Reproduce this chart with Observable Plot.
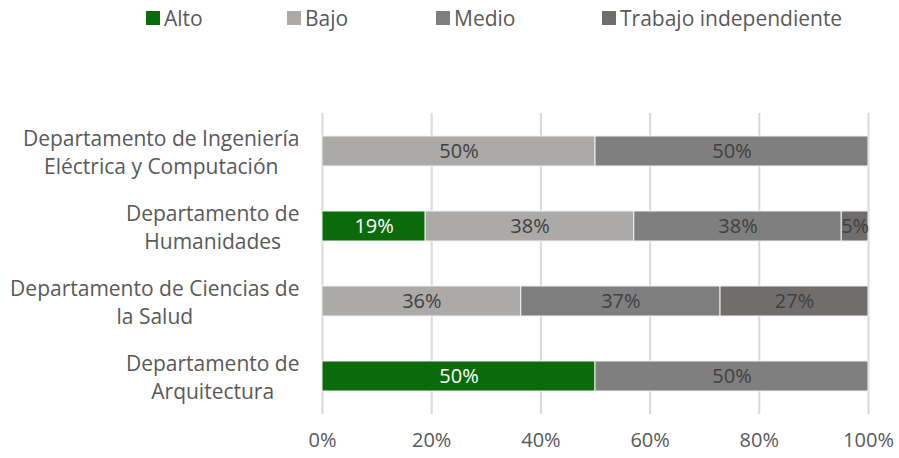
<!DOCTYPE html>
<html>
<head>
<meta charset="utf-8">
<script src="https://cdn.jsdelivr.net/npm/d3@7"></script>
<script src="https://cdn.jsdelivr.net/npm/@observablehq/plot@0.6"></script>
<style>
  body { margin: 0; background: #fff; font-family: "Open Sans", sans-serif; }
  #legend { position: relative; height: 40px; width: 899px; font-size: 21px; color: #595959; }
  .item { position: absolute; top: 4px; display: flex; align-items: center; white-space: nowrap; }
  .sw { width: 14px; height: 14px; margin-right: 4px; }
</style>
</head>
<body>
<div id="legend"></div>
<div id="chart"></div>
<script>
const departments = [
  "Departamento de Ingeniería\nEléctrica y Computación",
  "Departamento de\nHumanidades",
  "Departamento de Ciencias de\nla Salud",
  "Departamento de\nArquitectura"
];
const levels = ["Alto", "Bajo", "Medio", "Trabajo independiente"];
const colors = ["#0b6b0b", "#abaaa8", "#7f7f7f", "#716d6d"];
// percentages per department, in order of levels
const alto    = [0, 18.9, 0, 50];
const bajo    = [50, 38.2, 36.4, 0];
const medio   = [50, 38.0, 36.5, 50];
const trabajo = [0, 4.9, 27.1, 0];
const xTicks = [0, 20, 40, 60, 80, 100];

const series = [alto, bajo, medio, trabajo];
const rows = [];
departments.forEach((d, i) => {
  levels.forEach((l, j) => {
    const v = series[j][i];
    if (v > 0) rows.push({dept: d, level: l, value: v});
  });
});

// legend
const legendX = [146, 287, 436, 602];
const legend = document.getElementById("legend");
levels.forEach((l, j) => {
  const it = document.createElement("div");
  it.className = "item";
  it.style.left = legendX[j] + "px";
  it.innerHTML = `<span class="sw" style="background:${colors[j]}"></span><span>${l}</span>`;
  legend.appendChild(it);
});

// measure label widths so multi-line labels are centred and right-aligned as a block
const ctx = document.createElement("canvas").getContext("2d");
ctx.font = "21px 'Open Sans'";
const labelWidth = s => Math.max(...s.split("\n").map(t => ctx.measureText(t).width));

const yLabelMarks = departments.map(d =>
  Plot.text([d], {
    y: v => v, text: v => v, frameAnchor: "left", textAnchor: "middle",
    dx: -(23 + labelWidth(d) / 2), lineHeight: 1.33, fontSize: 21, fill: "#595959"
  })
);

const chart = Plot.plot({
  width: 899,
  height: 418,
  marginLeft: 322,
  marginRight: 31,
  marginTop: 73,
  marginBottom: 44,
  style: {fontFamily: "Open Sans, sans-serif", fontSize: "20px", color: "#595959"},
  x: {domain: [0, 100], ticks: xTicks, tickFormat: d => d + "%", label: null},
  y: {domain: departments, paddingInner: 0.6, paddingOuter: 0.3, label: null, axis: null},
  color: {domain: levels, range: colors},
  marks: [
    Plot.gridX(xTicks, {stroke: "#d9d9d9", strokeWidth: 2, strokeOpacity: 1}),
    Plot.barX(rows, Plot.stackX({
      y: "dept", x: "value", fill: "level", order: levels,
      stroke: "#f2f2f2", strokeWidth: 1
    })),
    Plot.text(rows, Plot.stackX({
      y: "dept", x: "value", z: "level", order: levels,
      text: d => Math.round(d.value) + "%",
      fill: d => d.level === "Alto" ? "#ffffff" : "#404040",
      fontSize: 20
    })),
    Plot.axisX({ticks: xTicks, tickSize: 0, tickPadding: 18, tickFormat: d => d + "%", fontSize: 20, fill: "#595959"}),
    ...yLabelMarks
  ]
});
document.getElementById("chart").appendChild(chart);
</script>
</body>
</html>
